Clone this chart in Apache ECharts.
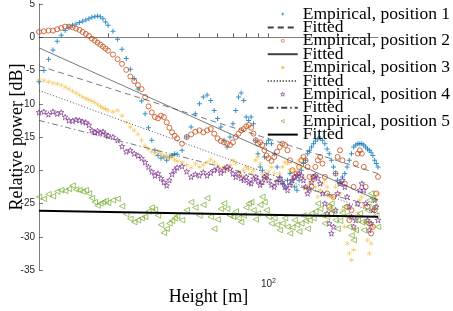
<!DOCTYPE html>
<html>
<head>
<meta charset="utf-8">
<script src="https://cdn.jsdelivr.net/npm/echarts@6/dist/echarts.min.js"></script>
<style>
  html, body { margin: 0; padding: 0; background: #fff; }
  #chart { width: 453px; height: 311px; }
</style>
</head>
<body>
<div id="chart"></div>
<script>
// heights [m], shared by all five measurement positions
const heights = [
  10, 10.5, 11, 11.5, 12, 12.5, 13, 13.5, 14, 14.5, 15, 15.5, 16, 16.5, 17, 17.5, 18, 18.5, 19, 19.5,
  20, 21, 22, 23, 24, 25, 26, 27, 28, 29, 30, 31, 32, 33, 34, 35, 36, 37, 38, 39,
  40, 42, 44, 46, 48, 50, 52, 54, 56, 58, 60, 62, 64, 66, 68, 70, 72, 74, 76, 78,
  80, 82, 84, 86, 88, 90, 92, 94, 96, 98, 100, 103, 106, 109, 112, 115, 118, 121, 124, 127,
  130, 133, 136, 139, 142, 145, 148, 151, 154, 157, 160, 164, 168, 172, 176, 180, 184, 188, 192, 196,
  200, 205, 210, 215, 220, 225, 230, 235, 240, 245, 250, 255, 260, 265, 270, 275, 280, 285, 290, 295, 300
]

const pos1 = [
  -6.7, -5.0, -3.3, -1.9, -0.6, 0.3, 1.0, 1.5, 1.8, 2.0, 2.2, 2.4, 2.6, 2.8, 3.0, 3.1, 3.2, 3.1, 2.8, 2.3,
  1.8, 0.9, -0.3, -1.8, -3.2, -4.8, -6.2, -7.8, -9.6, -11.5, -13.6, -15.5, -17.0, -17.8, -18.2, -18.0, -18.5, -18.0, -17.8, -17.5,
  -17.6, -17.0, -15.0, -13.5, -11.5, -10.0, -9.0, -8.7, -9.5, -11.0, -12.2, -13.5, -15.5, -16.5, -15.0, -13.0, -11.0, -9.0, -8.4, -9.5,
  -12.0, -12.5, -12.0, -13.0, -15.5, -17.5, -19.5, -20.0, -18.0, -16.0, -15.5, -16.0, -17.5, -19.5, -21.0, -22.0, -22.5, -21.5, -20.5, -21.5,
  -22.5, -23.0, -21.5, -20.0, -19.0, -18.5, -17.5, -17.0, -16.5, -16.0, -15.6, -15.3, -15.2, -15.5, -16.0, -16.8, -17.5, -18.5, -19.5, -20.5,
  -21.5, -22.0, -21.0, -20.5, -19.5, -18.5, -17.5, -16.5, -16.2, -16.0, -16.0, -16.0, -16.2, -16.5, -16.8, -17.0, -17.3, -17.8, -18.5, -19.0, -19.5
]

const pos2 = [
  0.8, 0.9, 1.0, 1.0, 1.2, 1.4, 1.6, 1.6, 1.5, 1.3, 1.1, 0.8, 0.5, 0.2, -0.2, -0.5, -0.8, -1.1, -1.4, -1.7,
  -2.0, -2.6, -3.3, -4.0, -4.9, -5.9, -6.6, -7.2, -7.8, -9.0, -10.4, -11.3, -12.0, -12.2, -11.8, -12.0, -12.8, -13.6, -14.3, -14.8,
  -15.2, -16.0, -15.0, -14.6, -14.2, -14.0, -14.3, -14.0, -13.8, -14.5, -15.2, -15.6, -15.8, -16.0, -16.2, -15.8, -15.0, -14.5, -14.0, -13.8,
  -13.4, -13.2, -13.6, -14.5, -15.5, -16.0, -15.8, -16.2, -17.0, -17.8, -18.2, -18.6, -18.0, -17.2, -16.5, -16.0, -16.2, -17.0, -18.5, -20.0,
  -21.0, -20.5, -19.5, -18.5, -18.0, -18.5, -19.5, -21.0, -22.5, -21.0, -19.5, -18.5, -18.0, -19.0, -21.0, -23.5, -25.5, -26.5, -24.0, -20.5,
  -18.0, -17.0, -18.5, -22.0, -25.5, -27.5, -26.0, -22.5, -19.0, -17.5, -17.0, -17.5, -19.5, -22.5, -25.5, -28.0, -29.5, -28.5, -26.0, -23.5, -21.0
]

const pos3 = [
  -6.4, -6.5, -6.7, -6.9, -7.0, -7.2, -7.5, -7.8, -8.1, -8.4, -8.7, -9.0, -9.2, -9.4, -9.6, -9.8, -10.1, -10.4, -10.6, -10.8,
  -11.0, -11.2, -11.0, -11.8, -12.8, -13.5, -14.0, -14.6, -15.5, -16.3, -16.8, -17.2, -17.5, -17.2, -17.6, -18.0, -17.8, -18.2, -18.0, -18.4,
  -18.6, -18.8, -19.2, -19.6, -19.0, -19.5, -19.2, -18.8, -18.4, -18.8, -19.3, -19.8, -19.5, -20.0, -19.2, -18.5, -19.0, -20.2, -20.8, -20.0,
  -19.5, -19.8, -20.5, -20.0, -18.5, -18.0, -19.0, -20.5, -21.5, -21.0, -20.2, -19.5, -20.5, -21.5, -20.5, -19.5, -18.8, -19.0, -20.0, -21.0,
  -20.0, -19.0, -18.5, -19.5, -21.0, -22.5, -23.0, -22.0, -21.0, -21.5, -22.5, -24.0, -23.0, -22.0, -21.5, -22.5, -24.0, -25.5, -24.0, -22.5,
  -22.0, -23.5, -26.0, -28.5, -31.0, -32.5, -33.5, -32.0, -29.0, -26.5, -24.5, -24.0, -25.5, -28.0, -30.5, -32.5, -31.0, -28.5, -26.0, -24.5, -23.5
]

const pos4 = [
  -11.3, -11.2, -11.6, -11.2, -11.5, -11.3, -12.0, -12.5, -12.6, -12.4, -12.5, -12.7, -12.8, -13.2, -14.0, -14.3, -14.1, -14.4, -14.2, -14.6,
  -14.8, -15.0, -15.5, -16.4, -17.2, -17.0, -17.5, -17.8, -18.2, -18.8, -19.5, -20.2, -20.8, -20.5, -21.2, -21.8, -22.3, -21.5, -20.6, -20.0,
  -19.6, -19.4, -20.2, -21.0, -20.6, -20.8, -20.3, -20.8, -20.4, -20.0, -19.8, -20.4, -20.0, -19.5, -19.8, -20.5, -21.0, -20.5, -21.2, -21.5,
  -21.0, -21.8, -22.0, -21.3, -21.0, -21.6, -22.2, -21.8, -21.0, -20.8, -21.5, -22.2, -22.5, -21.8, -21.2, -21.8, -22.5, -23.0, -22.2, -21.5,
  -21.0, -20.8, -20.5, -20.8, -21.5, -22.5, -23.5, -22.8, -21.8, -21.0, -20.8, -21.2, -22.0, -23.5, -25.0, -26.5, -28.0, -29.5, -28.5, -26.0,
  -23.5, -22.0, -21.5, -22.5, -24.0, -25.5, -27.0, -28.5, -27.5, -25.0, -23.0, -22.0, -23.0, -25.0, -27.5, -29.0, -28.0, -26.0, -24.5, -25.5, -27.5
]

const pos5 = [
  -24.0, -24.3, -23.6, -23.9, -23.2, -23.0, -23.1, -22.8, -22.3, -22.9, -23.0, -23.2, -23.0, -23.5, -24.2, -24.8, -25.3, -25.0, -24.8, -24.6,
  -24.9, -24.5, -24.3, -25.4, -26.6, -27.3, -27.8, -27.5, -27.2, -27.0, -26.2, -25.6, -25.9, -26.8, -28.2, -29.4, -28.8, -28.0, -27.6, -27.2,
  -26.9, -27.5, -26.0, -24.8, -25.6, -26.8, -25.2, -24.2, -27.0, -28.8, -27.4, -25.8, -25.0, -25.8, -26.8, -27.0, -26.2, -27.2, -27.8, -26.8,
  -25.6, -25.0, -24.8, -26.0, -27.4, -26.5, -25.2, -24.0, -24.8, -26.0, -27.0, -28.0, -27.2, -28.2, -29.0, -28.0, -27.2, -28.5, -29.5, -28.6,
  -27.5, -28.2, -29.2, -28.0, -26.8, -27.6, -28.8, -27.5, -26.5, -27.2, -26.2, -25.0, -25.8, -26.8, -28.0, -27.0, -25.8, -25.0, -26.2, -27.5,
  -28.8, -27.6, -26.4, -25.5, -26.8, -28.5, -29.8, -30.5, -29.0, -27.5, -26.5, -27.8, -29.0, -27.8, -26.0, -24.5, -23.5, -24.2, -25.5, -26.8, -28.5
]

// fitted lines: value at 10 m and at 300 m
const fitHeights = [10, 300]
const fitStart = [-4.3, -1.6, -8.0, -12.5, -26.1]
const fitEnd = [-20.5, -24.5, -26.5, -25.5, -27.0]

const empNames = ['Empirical, position 1', 'Empirical, position 2', 'Empirical, position 3',
  'Empirical, position 4', 'Empirical, position 5']
const xTicks = [20, 30, 40, 50, 60, 70, 80, 90, 100, 200]

const colors = ['#0072BD', '#C84C17', '#EDB120', '#7E2F8E', '#77AC30']
const empData = [pos1, pos2, pos3, pos4, pos5]

const plusPath = 'path://M4,0h2v4h4v2h-4v4h-2v-4h-4v-2h4z'
const starPath = 'path://M5,0L6.2,3.4L10,3.4L7,5.6L8.1,9.5L5,7.2L1.9,9.5L3,5.6L0,3.4L3.8,3.4Z'
const asteriskPath = 'path://M4.5,0h1v4.1l3.6,-2.1l0.5,0.9l-3.6,2.1l3.6,2.1l-0.5,0.9l-3.6,-2.1v4.1h-1v-4.1l-3.6,2.1l-0.5,-0.9l3.6,-2.1l-3.6,-2.1l0.5,-0.9l3.6,2.1z'

const markers = [
  { symbol: plusPath, symbolSize: 5, itemStyle: { color: colors[0] } },
  { symbol: 'circle', symbolSize: 5, itemStyle: { color: 'rgba(0,0,0,0)', borderColor: colors[1], borderWidth: 1 } },
  { symbol: asteriskPath, symbolSize: 5, itemStyle: { color: colors[2] } },
  { symbol: starPath, symbolSize: 5.5, itemStyle: { color: 'rgba(0,0,0,0)', borderColor: colors[3], borderWidth: 0.9 } },
  { symbol: 'triangle', symbolSize: 5.5, symbolRotate: 90, itemStyle: { color: 'rgba(0,0,0,0)', borderColor: colors[4], borderWidth: 0.9 } }
]

// small stroked legend markers inside a 30x13 box (the leading moveTo's keep the box size)
const pad = 'path://M0,0M30,13'
const legendIcons = [
  pad + 'M13.4,6.5L16.6,6.5M15,4.9L15,8.1',
  pad + 'M16.5,6.5A1.5,1.5,0,1,1,13.5,6.5A1.5,1.5,0,1,1,16.5,6.5Z',
  pad + 'M13.3,6.5L16.7,6.5M15,4.8L15,8.2M13.8,5.3L16.2,7.7M13.8,7.7L16.2,5.3',
  pad + 'M15,4.3L15.53,5.77L17.09,5.82L15.86,6.78L16.29,8.28L15,7.4L13.71,8.28L14.14,6.78L12.91,5.82L14.47,5.77Z',
  pad + 'M13.3,6.5L16.4,4.7L16.4,8.3Z'
]

const fitStyles = [
  { color: '#404040', width: 0.7, type: [6, 4] },
  { color: '#404040', width: 0.7, type: 'solid' },
  { color: '#404040', width: 0.9, type: [1, 2] },
  { color: '#404040', width: 0.7, type: [6, 3, 1.5, 3] },
  { color: '#000000', width: 2, type: 'solid' }
]

const series = []
const legendData = []
for (let i = 0; i < 5; i++) {
  series.push({
    name: empNames[i],
    type: 'scatter',
    data: heights.map((h, k) => [h, empData[i][k]]),
    symbol: markers[i].symbol,
    symbolSize: markers[i].symbolSize,
    symbolRotate: markers[i].symbolRotate || 0,
    itemStyle: markers[i].itemStyle,
    emphasis: { disabled: true },
    animation: false
  })
  series.push({
    name: 'Fitted ' + (i + 1),
    type: 'line',
    data: fitHeights.map((h, k) => [h, k === 0 ? fitStart[i] : fitEnd[i]]),
    symbol: 'none',
    lineStyle: fitStyles[i],
    itemStyle: { color: fitStyles[i].color },
    emphasis: { disabled: true },
    animation: false
  })
  legendData.push({
    name: empNames[i],
    icon: legendIcons[i],
    itemStyle: { color: 'rgba(0,0,0,0)', borderColor: colors[i], borderWidth: 0.8 }
  })
  legendData.push({
    name: 'Fitted ' + (i + 1),
    itemStyle: { color: 'rgba(0,0,0,0)', borderColor: 'rgba(0,0,0,0)', borderWidth: 0 }
  })
}

const chart = echarts.init(document.getElementById('chart'))
chart.setOption({
  animation: false,
  grid: { left: 39, right: 75, top: 4, bottom: 41, outerBoundsMode: 'none', containLabel: false },
  legend: {
    data: legendData,
    orient: 'vertical',
    right: 3,
    top: 5,
    itemWidth: 30,
    itemHeight: 13,
    itemGap: -4.6,
    padding: 0,
    selectedMode: false,
    symbolKeepAspect: true,
    formatter: n => (n.indexOf('Fitted') === 0 ? 'Fitted' : n),
    textStyle: { fontFamily: 'Liberation Serif', fontSize: 17.5, color: '#000' }
  },
  xAxis: {
    type: 'log',
    logBase: 10,
    min: 10,
    max: 300,
    name: 'Height [m]',
    nameLocation: 'middle',
    nameGap: 18,
    nameMoveOverlap: false,
    nameTextStyle: { fontFamily: 'Liberation Serif', fontSize: 18, color: '#000' },
    axisLine: { lineStyle: { color: '#262626', width: 0.6 } },
    axisTick: { inside: true, length: 4, customValues: xTicks, lineStyle: { color: '#262626', width: 0.7 } },
    axisLabel: {
      customValues: [100],
      margin: 8,
      formatter: () => '{b|10}{s|2}',
      rich: {
        b: { fontFamily: 'Liberation Sans', fontSize: 10, color: '#262626' },
        s: { fontFamily: 'Liberation Sans', fontSize: 7, color: '#262626', verticalAlign: 'top', padding: [0, 0, 6, 0] }
      }
    },
    splitLine: { show: false },
    minorTick: { show: false }
  },
  yAxis: {
    type: 'value',
    min: -35,
    max: 5,
    interval: 5,
    name: 'Relative power [dB]',
    nameLocation: 'middle',
    nameGap: 13,
    nameMoveOverlap: false,
    nameTextStyle: { fontFamily: 'Liberation Serif', fontSize: 18, color: '#000' },
    axisLine: { show: true, lineStyle: { color: '#262626', width: 0.6 } },
    axisTick: { show: true, inside: true, length: 4, lineStyle: { color: '#262626', width: 0.6 } },
    axisLabel: { margin: 4, fontFamily: 'Liberation Sans', fontSize: 10, color: '#262626' },
    splitLine: { show: false }
  },
  series: series
})
</script>
</body>
</html>
